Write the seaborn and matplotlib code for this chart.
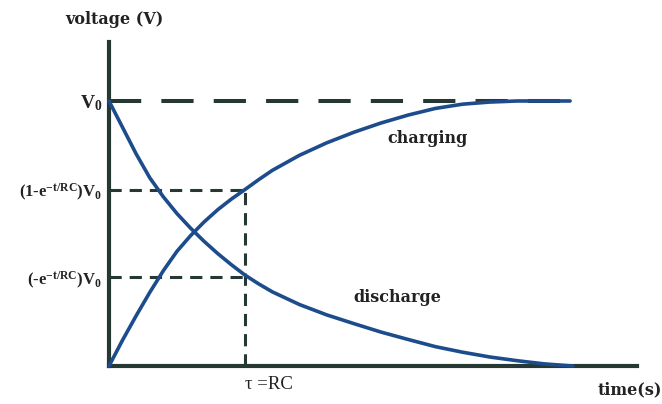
import matplotlib
matplotlib.use("Agg")
import matplotlib.pyplot as plt
import seaborn as sns
import pandas as pd

# time in units of tau (=RC), voltage in units of V0
charge_t = [0.0, 0.1, 0.2, 0.3, 0.4, 0.5, 0.6, 0.7, 0.8, 0.9, 1.0, 1.1, 1.2,
            1.4, 1.6, 1.8, 2.0, 2.2, 2.4, 2.6, 2.8, 3.0, 3.2, 3.39]
charge_v = [0.0, 0.098, 0.190, 0.278, 0.360, 0.433, 0.492, 0.544, 0.590, 0.630,
            0.666, 0.703, 0.738, 0.795, 0.842, 0.882, 0.917, 0.947, 0.972, 0.988,
            0.996, 1.0, 1.0, 1.0]

discharge_t = [0.0, 0.1, 0.2, 0.3, 0.4, 0.5, 0.6, 0.7, 0.8, 0.9, 1.0, 1.1, 1.2,
               1.4, 1.6, 1.8, 2.0, 2.2, 2.4, 2.6, 2.8, 3.0, 3.2, 3.41]
discharge_v = [1.0, 0.900, 0.800, 0.710, 0.638, 0.575, 0.520, 0.470, 0.424, 0.382,
               0.343, 0.310, 0.280, 0.232, 0.193, 0.160, 0.128, 0.100, 0.073, 0.052,
               0.034, 0.020, 0.008, 0.0]

tau = 1.0
v0_end = 3.40
levels = [1.0, 0.665, 0.335]
level_labels = ["V$\\mathregular{_0}$",
                "(1-e$\\mathregular{^{-t/ RC}}$)V$\\mathregular{_0}$",
                "(-e$\\mathregular{^{-t/ RC}}$)V$\\mathregular{_0}$"]

sns.set_style("white")
plt.rcParams["font.family"] = ["Liberation Serif", "DejaVu Serif"]
plt.rcParams["mathtext.fontset"] = "custom"
plt.rcParams["mathtext.rm"] = "Liberation Serif:bold"

blue = "#1c4c8c"
dark = "#263833"
ink = "#222222"
label_font = dict(family="DejaVu Serif", fontsize=11.5, fontweight="bold", color=ink)

fig = plt.figure(figsize=(6.62, 4.04), dpi=100)
ax = fig.add_axes([109 / 662, 38 / 404, 528 / 662, 324 / 404])

charge = pd.DataFrame({"t": charge_t, "v": charge_v})
discharge = pd.DataFrame({"t": discharge_t, "v": discharge_v})

# dashed guides
ax.hlines(levels[0], 0, v0_end, colors=dark, linewidth=2.9,
          linestyles=(0, (8, 5)), zorder=1)
ax.hlines(levels[1:], 0, tau, colors=dark, linewidth=2.2,
          linestyles=(0, (4, 2.6)), zorder=1)
ax.vlines(tau, 0, levels[1], colors=dark, linewidth=2.2,
          linestyles=(0, (4, 2.6)), zorder=1)

sns.lineplot(data=charge, x="t", y="v", color=blue, linewidth=2.6, ax=ax, zorder=3)
sns.lineplot(data=discharge, x="t", y="v", color=blue, linewidth=2.6, ax=ax, zorder=3)
for ln in ax.lines:
    ln.set_clip_on(False)
    ln.set_solid_capstyle("round")
    ln.set_solid_joinstyle("round")

ax.set_xlim(0, 3.882)
ax.set_ylim(0, 1.2226)

for side in ["top", "right"]:
    ax.spines[side].set_visible(False)
for side in ["left", "bottom"]:
    ax.spines[side].set_linewidth(3.0)
    ax.spines[side].set_color(dark)
    ax.spines[side].set_capstyle("projecting")

ax.set_yticks(levels)
ax.set_yticklabels(level_labels, fontweight="bold")
for lab, size in zip(ax.get_yticklabels(), [14, 12, 12]):
    lab.set_fontsize(size)
ax.set_xticks([tau])
ax.set_xticklabels(["\u03c4 =RC"], fontsize=13.5)
for lab in ax.get_xticklabels():
    lab.set_horizontalalignment("left")
ax.tick_params(axis="both", length=0, colors=ink)
ax.tick_params(axis="y", pad=5)
ax.tick_params(axis="x", pad=7)
ax.set_xlabel("")
ax.set_ylabel("")

fig.text(114 / 662, 1 - 20 / 404, "voltage (V)", ha="center", va="center", **label_font)
fig.text(630 / 662, 1 - 390 / 404, "time(s)", ha="center", va="center", **label_font)
ax.text(2.34, 0.86, "charging", ha="center", va="center", **label_font)
ax.text(2.12, 0.257, "discharge", ha="center", va="center", **label_font)

fig.savefig("out.png", dpi=100, facecolor="white")
